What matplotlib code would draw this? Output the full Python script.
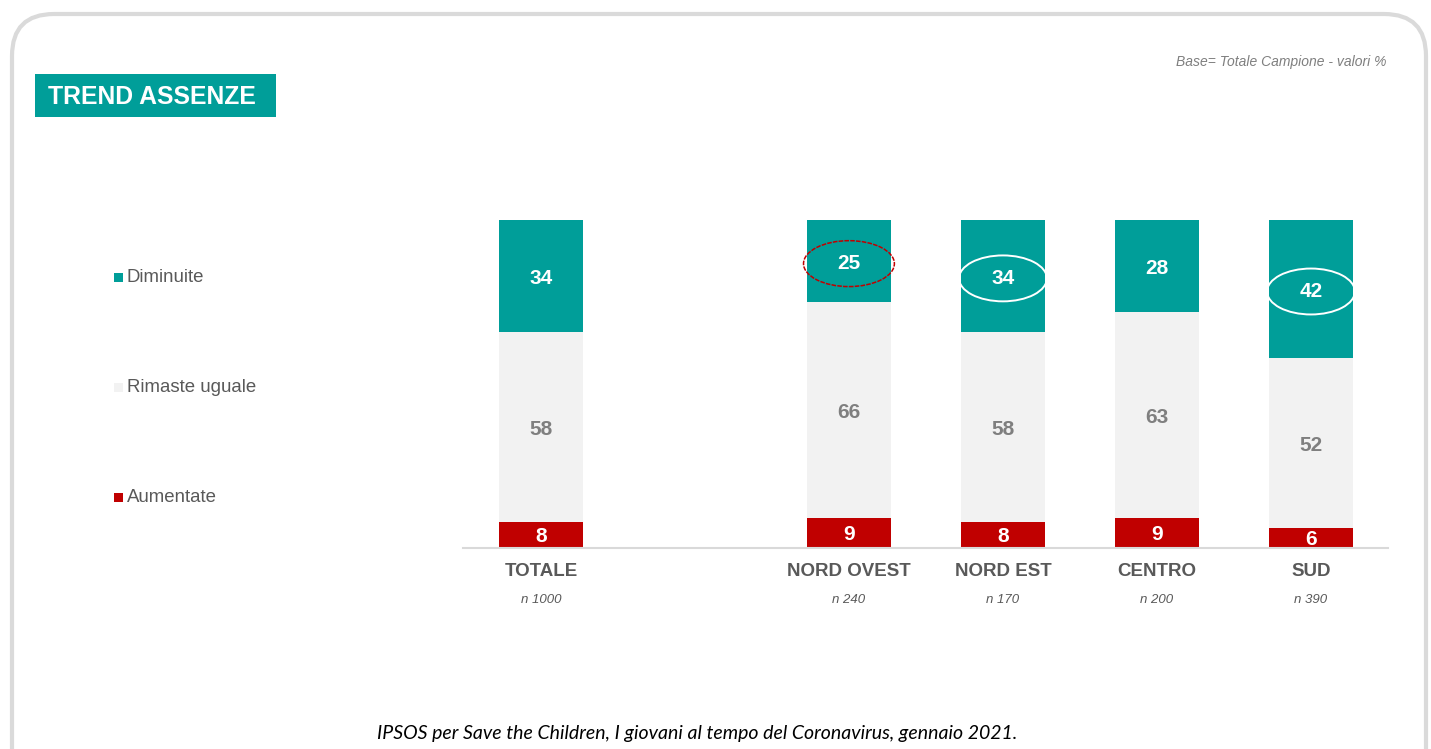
import matplotlib.pyplot as plt
from matplotlib.patches import FancyBboxPatch, Rectangle, Ellipse

plt.rcParams['font.family'] = ['Liberation Sans', 'DejaVu Sans']

# === dati ===
categorie = ["TOTALE", "NORD OVEST", "NORD EST", "CENTRO", "SUD"]
campioni = ["n 1000", "n 240", "n 170", "n 200", "n 390"]
posizioni = [0, 2, 3, 4, 5]
aumentate = [8, 9, 8, 9, 6]
uguali = [58, 66, 58, 63, 52]
diminuite = [34, 25, 34, 28, 42]
# cerchiati: indice categoria -> colore
cerchi = {1: "#C00000", 2: "white", 4: "white"}

TEAL = "#009E99"
GRIGIO = "#F2F2F2"
ROSSO = "#C00000"
TESTO = "#595959"

fig = plt.figure(figsize=(14.31, 7.49), dpi=100)

# === sfondo: cornice, titolo, legenda (coordinate in pixel) ===
bg = fig.add_axes([0, 0, 1, 1])
bg.set_xlim(0, 1431)
bg.set_ylim(749, 0)
bg.axis("off")
bg.add_patch(FancyBboxPatch((12, 14), 1414, 780, boxstyle="round,pad=0,rounding_size=42",
                            fc="white", ec="#DADADA", lw=3))
bg.add_patch(Rectangle((35, 74), 241, 43, fc=TEAL, ec="none"))
bg.text(48, 97, "TREND ASSENZE", color="white", fontsize=17.8, fontweight="bold",
        va="center", ha="left")
bg.text(1387, 62, "Base= Totale Campione - valori %", color="#7F7F7F", fontsize=10,
        style="italic", ha="right", va="center")
bg.text(697, 733, "IPSOS per Save the Children, I giovani al tempo del Coronavirus, gennaio 2021.",
        color="black", fontsize=14, style="italic", ha="center", va="center",
        family=["Lato", "DejaVu Sans"])

voci = [("Diminuite", TEAL, 277), ("Rimaste uguale", GRIGIO, 387), ("Aumentate", ROSSO, 497)]
for nome, col, y in voci:
    bg.add_patch(Rectangle((114, y - 4), 9, 9, fc=col, ec="none"))
    bg.text(127, y, nome, color=TESTO, fontsize=13.4, va="center", ha="left")

# === grafico a barre impilate ===
ax = fig.add_axes([463 / 1431, (749 - 548) / 749, 925 / 1431, 328 / 749])
ax.set_xlim(-0.506, 5.5)
ax.set_ylim(0, 100)
ax.patch.set_alpha(0)
larg = 0.55

ax.bar(posizioni, aumentate, width=larg, color=ROSSO)
ax.bar(posizioni, uguali, width=larg, bottom=aumentate, color=GRIGIO)
base_dim = [a + u for a, u in zip(aumentate, uguali)]
ax.bar(posizioni, diminuite, width=larg, bottom=base_dim, color=TEAL)

for i, x in enumerate(posizioni):
    ax.text(x, aumentate[i] / 2 - 0.4, str(aumentate[i]), color="white", fontsize=15,
            fontweight="bold", ha="center", va="center")
    ax.text(x, aumentate[i] + uguali[i] / 2 - 0.8, str(uguali[i]), color="#7F7F7F",
            fontsize=15, fontweight="bold", ha="center", va="center")
    yc = base_dim[i] + diminuite[i] / 2 - 0.8
    ax.text(x, yc, str(diminuite[i]), color="white", fontsize=15,
            fontweight="bold", ha="center", va="center")
    if i in cerchi:
        if cerchi[i] == ROSSO:
            ax.add_patch(Ellipse((x, yc), 0.59, 14, fill=False, ec=cerchi[i], lw=1.1,
                                 ls=(0, (3, 0.8))))
        else:
            ax.add_patch(Ellipse((x, yc), 0.57, 14, fill=False, ec=cerchi[i], lw=1.4))
    ax.text(x, -7.3, categorie[i], color=TESTO, fontsize=13.5, fontweight="bold",
            ha="center", va="center")
    ax.text(x, -15.9, campioni[i], color=TESTO, fontsize=9.5, style="italic",
            ha="center", va="center")

for s in ["top", "right", "left"]:
    ax.spines[s].set_visible(False)
ax.spines["bottom"].set_color("#D9D9D9")
ax.spines["bottom"].set_linewidth(1.5)
ax.set_xticks([])
ax.set_yticks([])

fig.savefig("out.png", dpi=100)
